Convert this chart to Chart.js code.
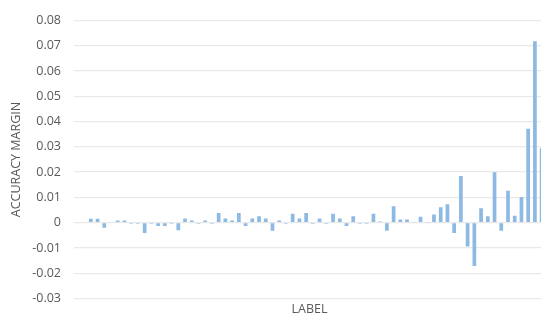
<!DOCTYPE html>
<html>
<head>
<meta charset="utf-8">
<script src="https://cdn.jsdelivr.net/npm/chart.js@4/dist/chart.umd.min.js"></script>
<style>
  html, body { margin: 0; padding: 0; background: #fff; overflow: hidden; }
  #wrap { position: relative; width: 545px; height: 319px; }
</style>
</head>
<body>
<div id="wrap"><canvas id="chart"></canvas></div>
<script>
// category slots on the x axis (first two are empty)
const CATEGORIES = Array.from({ length: 70 }, (_, i) => String(i + 1));

const MARGINS = [
  null, null,
  0.0016, 0.0016, -0.002, 0, 0.0009, 0.0009, -0.0004, -0.0004, -0.0041, -0.0004,
  -0.0013, -0.0013, -0.0004, -0.003, 0.0017, 0.0009, -0.0004, 0.0009, -0.0004, 0.0038,
  0.0017, 0.0009, 0.0038, -0.0013, 0.0017, 0.0025, 0.0017, -0.0032, 0.0009, -0.0004,
  0.0035, 0.0017, 0.0038, -0.0004, 0.0017, -0.0004, 0.0035, 0.0017, -0.0013, 0.0025,
  -0.0004, -0.0004, 0.0035, 0.0005, -0.0032, 0.0065, 0.0013, 0.0013, 0.0002, 0.0023,
  0.0002, 0.0032, 0.0061, 0.0073, -0.0041, 0.0185, -0.0094, -0.0171, 0.0057, 0.0025,
  0.0200, -0.0032, 0.0126, 0.0027, 0.0102, 0.0372, 0.0718, 0.0295
];

const Y_MIN = -0.03;
const Y_MAX = 0.08;
const Y_STEP = 0.01;

(() => {
  const FONT = "'Open Sans', 'Noto Sans', sans-serif";
  const GREY = "#595959";

  const fmt = (v) => (Math.abs(v) < 1e-9 ? "0" : Number(v).toFixed(2));

  new Chart(document.getElementById("chart"), {
    type: "bar",
    data: {
      labels: CATEGORIES,
      datasets: [{
        data: MARGINS,
        backgroundColor: "#8DB9E3",
        barPercentage: 0.55,
        categoryPercentage: 1
      }]
    },
    options: {
      responsive: true,
      maintainAspectRatio: false,
      animation: false,
      layout: { padding: { top: 13, right: 0, bottom: 0, left: 0 } },
      plugins: { legend: { display: false }, tooltip: { enabled: false } },
      scales: {
        x: {
          grid: { display: false },
          border: { display: false },
          ticks: { display: false },
          title: {
            display: true, text: "LABEL", color: GREY,
            font: { family: FONT, size: 12.5 }, padding: { top: 0, bottom: 0 }
          },
          afterFit: (s) => { s.height = 18; }
        },
        y: {
          min: Y_MIN,
          max: Y_MAX,
          grid: { color: "#e9e9e9", lineWidth: 1.3, drawTicks: false },
          border: { display: false },
          ticks: {
            stepSize: Y_STEP, padding: 13, color: GREY,
            font: { family: FONT, size: 12.5 },
            callback: fmt
          },
          title: {
            display: true, text: "ACCURACY MARGIN", color: GREY,
            font: { family: FONT, size: 12.5 }, padding: { top: 9, bottom: 0 }
          },
          afterFit: (s) => { s.width = 74; }
        }
      }
    }
  });
})();
</script>
</body>
</html>
